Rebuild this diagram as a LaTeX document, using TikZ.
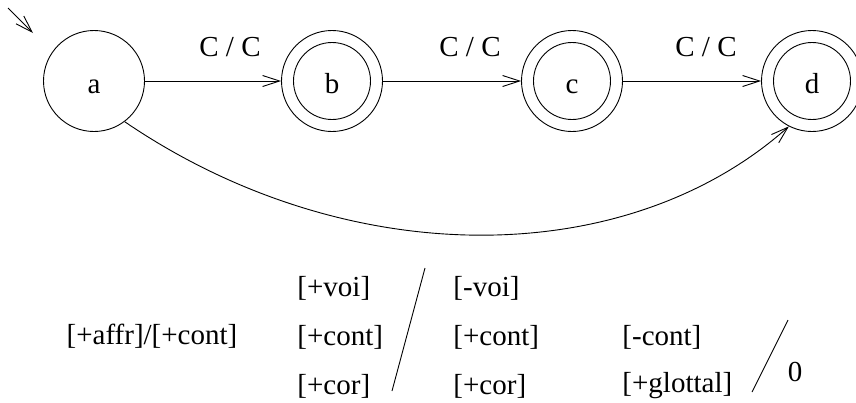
\documentclass[tikz,border=0pt]{standalone}
\usepackage{fontspec}
\setmainfont{Liberation Serif}
\usetikzlibrary{arrows.meta}
\begin{document}
\begin{tikzpicture}[x=1pt,y=-1pt,
  line width=0.9pt,
  every node/.style={font=\fontsize{29}{34}\selectfont},
  state/.style={circle,draw,minimum size=101pt,inner sep=0pt,text height=24pt,text depth=0pt},
  accepting/.style={path picture={\draw (path picture bounding box.center) circle[radius=38.5pt];}},
  arr/.style={-{Straight Barb[length=17pt,width=11pt,line width=0.9pt]}},
  lbl/.style={inner sep=0pt},
  feat/.style={anchor=west,inner sep=0pt}]
\useasboundingbox (0,0) rectangle (856,402);
% states
\node[state] (a) at (94,81) {a};
\node[state,accepting] (b) at (332,81) {b};
\node[state,accepting] (c) at (572,81) {c};
\node[state,accepting] (d) at (812,81) {d};
% initial arrow
\coordinate (i0) at (8,8);
\coordinate (i1) at (33,33);
\draw[arr] (i0) -- (i1);
% transitions
\draw[arr] (a) -- (b);
\draw[arr] (b) -- (c);
\draw[arr] (c) -- (d);
\node[lbl] (l1) at (230,47) {C / C};
\node[lbl] (l2) at (470,47) {C / C};
\node[lbl] (l3) at (706,47) {C / C};
\draw[arr] (a.-53) .. controls (345,272) and (625,272) .. (d.-117);
% rule
\node[lbl] (f0) at (152,336) {[+affr]/[+cont]};
\node[feat] (f21) at (297,288) {[+voi]};
\node[feat] (f22) at (297,337) {[+cont]};
\node[feat] (f23) at (297,386) {[+cor]};
\coordinate (s1a) at (425,268);
\coordinate (s1b) at (392,391);
\draw (s1a) -- (s1b);
\node[feat] (f31) at (453,288) {[-voi]};
\node[feat] (f32) at (453,337) {[+cont]};
\node[feat] (f33) at (453,386) {[+cor]};
\node[feat] (f42) at (622,337) {[-cont]};
\node[feat] (f43) at (622,386) {[+glottal]};
\coordinate (s2a) at (788,320);
\coordinate (s2b) at (752,392);
\draw (s2a) -- (s2b);
\node[lbl] (zero) at (795,372) {0};
\end{tikzpicture}
\end{document}
